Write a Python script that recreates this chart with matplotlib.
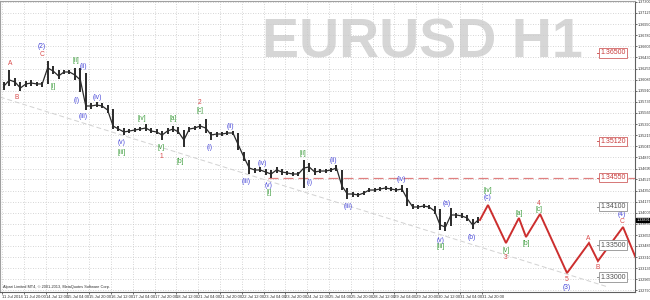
import matplotlib
matplotlib.use("Agg")
import matplotlib.pyplot as plt
import matplotlib.transforms as mtransforms

plt.rcParams['font.family'] = ['Liberation Sans', 'DejaVu Sans']

# ---------------- data ----------------
# H4-aggregated price (close / high / low), each group = 4 H1 bars
closes = [1.35984, 1.36078, 1.36047, 1.35953, 1.36016, 1.36031, 1.36016, 1.36016,
          1.36266, 1.36219, 1.36141, 1.36203, 1.36203, 1.36156, 1.36078, 1.35672,
          1.35672, 1.35687, 1.35672, 1.35609, 1.35359, 1.35312, 1.35266, 1.35281,
          1.35297, 1.35312, 1.35328, 1.35281, 1.35266, 1.35219, 1.35281, 1.35312,
          1.35266, 1.35141, 1.35312, 1.35328, 1.35359, 1.35328, 1.35219, 1.35234,
          1.35234, 1.35250, 1.35250, 1.35062, 1.34875, 1.34703, 1.34672, 1.34672,
          1.34641, 1.34609, 1.34672, 1.34641, 1.34625, 1.34609, 1.34609, 1.34703,
          1.34719, 1.34641, 1.34656, 1.34656, 1.34672, 1.34703, 1.34422, 1.34297,
          1.34297, 1.34281, 1.34312, 1.34359, 1.34359, 1.34375, 1.34391, 1.34375,
          1.34359, 1.34375, 1.34219, 1.34094, 1.34094, 1.34109, 1.34094, 1.34031,
          1.33812, 1.33781, 1.33969, 1.33969, 1.33953, 1.33922, 1.33812, 1.33891]
highs = [1.36047, 1.36234, 1.36109, 1.36047, 1.36062, 1.36078, 1.36047, 1.36047,
         1.36375, 1.36297, 1.36234, 1.36234, 1.36234, 1.36266, 1.36266, 1.36187,
         1.35719, 1.35734, 1.35719, 1.35687, 1.35625, 1.35359, 1.35328, 1.35312,
         1.35328, 1.35344, 1.35391, 1.35328, 1.35312, 1.35281, 1.35328, 1.35359,
         1.35344, 1.35297, 1.35344, 1.35359, 1.35391, 1.35469, 1.35266, 1.35266,
         1.35266, 1.35281, 1.35281, 1.35250, 1.34953, 1.34828, 1.34703, 1.34719,
         1.34687, 1.34672, 1.34719, 1.34687, 1.34656, 1.34641, 1.34641, 1.34828,
         1.34781, 1.34703, 1.34687, 1.34687, 1.34703, 1.34750, 1.34672, 1.34391,
         1.34328, 1.34312, 1.34344, 1.34391, 1.34391, 1.34406, 1.34422, 1.34406,
         1.34391, 1.34437, 1.34391, 1.34141, 1.34125, 1.34141, 1.34125, 1.34109,
         1.34062, 1.33859, 1.34078, 1.34000, 1.34000, 1.33969, 1.33906, 1.33937]
lows = [1.35922, 1.35984, 1.35984, 1.35906, 1.35969, 1.35984, 1.35984, 1.35969,
        1.36016, 1.36172, 1.36094, 1.36172, 1.36172, 1.36078, 1.35891, 1.35609,
        1.35625, 1.35656, 1.35641, 1.35562, 1.35312, 1.35281, 1.35219, 1.35250,
        1.35266, 1.35281, 1.35281, 1.35250, 1.35234, 1.35141, 1.35234, 1.35266,
        1.35234, 1.35031, 1.35266, 1.35297, 1.35312, 1.35250, 1.35141, 1.35187,
        1.35203, 1.35219, 1.35219, 1.34984, 1.34812, 1.34609, 1.34625, 1.34641,
        1.34594, 1.34547, 1.34625, 1.34594, 1.34594, 1.34578, 1.34578, 1.34391,
        1.34641, 1.34594, 1.34625, 1.34625, 1.34641, 1.34656, 1.34359, 1.34219,
        1.34250, 1.34250, 1.34281, 1.34328, 1.34328, 1.34344, 1.34359, 1.34344,
        1.34328, 1.34328, 1.34109, 1.34062, 1.34062, 1.34078, 1.34062, 1.33984,
        1.33734, 1.33719, 1.33797, 1.33922, 1.33922, 1.33875, 1.33750, 1.33844]
bars_per_group = 4

# projected wave path (bar index, price)
proj_bars = [350.8, 356.7, 369.9, 379.4, 384.6, 394.9, 414.7, 430.8, 437.4, 455.8, 470.0]
proj_prices = [1.33891, 1.34125, 1.33531, 1.33922, 1.33625, 1.33984, 1.33062,
               1.33531, 1.33250, 1.33781, 1.33050]

# dashed trend line
trend_bars = [-1.5, 444.8]
trend_prices = [1.35812, 1.32844]

# horizontal levels
level_prices = [1.36500, 1.35120, 1.34550, 1.34100, 1.33500, 1.33000]
level_kinds = ['red', 'red', 'red', 'gray', 'gray', 'gray']
dashed_level = 1.34550
dashed_level_start = 195.2
current_price = 1.33891

# wave labels: (text, bar, price, colour)
wave_labels = [
    ("A", 5.9, 1.36328, 'r'), ("B", 11.0, 1.35812, 'r'),
    ("(2)", 29.4, 1.36594, 'b'), ("C", 29.4, 1.36484, 'r'),
    ("[ii]", 54.3, 1.36375, 'g'), ("(ii)", 59.4, 1.36281, 'b'),
    ("[i]", 37.4, 1.35969, 'g'), ("(i)", 55.0, 1.35750, 'b'),
    ("(iii)", 59.4, 1.35500, 'b'), ("(iv)", 69.7, 1.35812, 'b'),
    ("(v)", 88.1, 1.35094, 'b'), ("[iii]", 88.1, 1.34953, 'g'),
    ("[iv]", 102.8, 1.35469, 'g'), ("[v]", 116.7, 1.35031, 'g'),
    ("1", 116.7, 1.34875, 'r'), ("[a]", 125.5, 1.35469, 'g'),
    ("[b]", 130.6, 1.34797, 'g'), ("2", 145.3, 1.35719, 'r'),
    ("[c]", 145.3, 1.35594, 'g'), ("(i)", 152.7, 1.35016, 'b'),
    ("(ii)", 167.3, 1.35359, 'b'), ("(iii)", 179.1, 1.34500, 'b'),
    ("(iv)", 190.8, 1.34781, 'b'), ("(v)", 196.0, 1.34422, 'b'),
    ("[i]", 196.0, 1.34328, 'g'), ("[ii]", 220.9, 1.34937, 'g'),
    ("(i)", 226.1, 1.34469, 'b'), ("(ii)", 242.9, 1.34828, 'b'),
    ("(iii)", 253.9, 1.34094, 'b'), ("(iv)", 292.8, 1.34531, 'b'),
    ("(v)", 322.2, 1.33578, 'b'), ("[iii]", 322.2, 1.33469, 'g'),
    ("(a)", 326.6, 1.34141, 'b'), ("(b)", 345.0, 1.33625, 'b'),
    ("[iv]", 356.7, 1.34344, 'g'), ("(c)", 356.7, 1.34250, 'b'),
    ("[v]", 369.9, 1.33422, 'g'), ("3", 369.9, 1.33312, 'r'),
    ("[a]", 379.4, 1.33999, 'g'), ("[b]", 384.6, 1.33516, 'g'),
    ("4", 394.1, 1.34156, 'r'), ("[c]", 394.1, 1.34062, 'g'),
    ("5", 414.7, 1.32969, 'r'), ("(3)", 414.7, 1.32844, 'b'),
    ("A", 430.1, 1.33609, 'r'), ("B", 437.4, 1.33156, 'r'),
    ("C", 455.0, 1.33875, 'r'), ("(4)", 455.0, 1.33984, 'b'),
]

# axis ticks
price_ticks = [1.37300, 1.37125, 1.36950, 1.36780, 1.36605, 1.36430, 1.36255,
               1.36085, 1.35910, 1.35735, 1.35565, 1.35390, 1.35215, 1.35045,
               1.34870, 1.34695, 1.34525, 1.34350, 1.34175, 1.34005, 1.33830,
               1.33655, 1.33485, 1.33310, 1.33135, 1.32965, 1.32790]
date_labels = ["11 Jul 2014", "11 Jul 20:00", "14 Jul 12:00", "15 Jul 04:00",
               "15 Jul 20:00", "16 Jul 12:00", "17 Jul 04:00", "17 Jul 20:00",
               "18 Jul 12:00", "21 Jul 04:00", "21 Jul 20:00", "22 Jul 12:00",
               "23 Jul 04:00", "23 Jul 20:00", "24 Jul 12:00", "25 Jul 04:00",
               "25 Jul 20:00", "28 Jul 12:00", "29 Jul 04:00", "29 Jul 20:00",
               "30 Jul 12:00", "31 Jul 04:00", "31 Jul 20:00"]
bars_per_label = 16

# ---------------- drawing ----------------
W, H = 650, 300
fig = plt.figure(figsize=(W / 100, H / 100), dpi=100)
fig.patch.set_facecolor('white')
ax = fig.add_axes([0, 8 / H, 635 / W, 291 / H])
ax.set_xlim(-1.47, 464.6)
ax.set_ylim(1.32766, 1.37312)

col = {'r': '#d94a4a', 'b': '#4848d8', 'g': '#3c9c3c'}

# grid and ticks
ax.set_yticks(price_ticks)
ax.set_yticklabels([f"{v:.5f}" for v in price_ticks])
xt = [i * bars_per_label for i in range(len(date_labels))]
ax.set_xticks(xt)
ax.set_xticklabels(date_labels)
ax.grid(True, color='#c8c8c8', linestyle=(0, (1, 2)), linewidth=0.6)
ax.set_axisbelow(True)
ax.yaxis.tick_right()
ax.tick_params(axis='y', labelsize=2.7, length=1.2, width=0.5, pad=0.6, colors='#303030')
ax.tick_params(axis='x', labelsize=3.0, length=1.2, width=0.5, pad=0.6, colors='#303030')
for lab in ax.get_xticklabels():
    lab.set_horizontalalignment('left')
for s in ['top', 'left']:
    ax.spines[s].set_color('#a0a0a0')
    ax.spines[s].set_linewidth(0.8)
for s in ['right', 'bottom']:
    ax.spines[s].set_color('#606060')
    ax.spines[s].set_linewidth(0.8)

# watermark
ax.text(0.665, 0.855, "EURUSD H1", transform=ax.transAxes, fontsize=40,
        fontweight='bold', color='#d6d6d6', ha='center', va='center', zorder=0.5)

# trend line
ax.plot(trend_bars, trend_prices, color='#d2d2d2', lw=0.7, ls=(0, (5, 3)), zorder=1)

# dashed level
ax.plot([dashed_level_start, 470], [dashed_level, dashed_level], color='#e08080',
        lw=0.9, ls=(0, (8, 4)), zorder=1)

# price bars
gx = [bars_per_group * i + 1.5 for i in range(len(closes))]
ax.vlines(gx, lows, highs, color='#2a2a2a', lw=1.4, zorder=3)
ax.plot(gx, closes, color='#2a2a2a', lw=0.9, zorder=3)

# projection
ax.plot(proj_bars, proj_prices, color='#cc2e2e', lw=1.4, zorder=4, solid_joinstyle='miter')

# wave labels
for txt, b, p, c in wave_labels:
    ax.text(b, p, txt, color=col[c], fontsize=4.8, ha='center', va='center', zorder=5)

# right-hand price boxes
trans = mtransforms.blended_transform_factory(ax.transAxes, ax.transData)
for p, k in zip(level_prices, level_kinds):
    ec = '#d06060' if k == 'red' else '#909090'
    tc = '#c83a3a' if k == 'red' else '#505050'
    ax.plot([0.940, 0.949], [p, p], transform=trans, color=ec, lw=0.7, zorder=6,
            clip_on=False)
    ax.text(0.9655, p, f"{p:.5f}", transform=trans, fontsize=5.0, color=tc,
            ha='center', va='center', zorder=7,
            bbox=dict(boxstyle='square,pad=0.15', fc='white', ec=ec, lw=0.6))

# current price box on axis
ax.text(1.002, current_price, f"{current_price:.5f}",
        transform=trans, fontsize=2.7, color='white', ha='left', va='center',
        bbox=dict(boxstyle='square,pad=0.1', fc='black', ec='black'), zorder=8,
        clip_on=False)

# copyright
ax.text(0.004, 0.012, "Alpari Limited MT4, \u00a9 2001-2013, MetaQuotes Software Corp.",
        transform=ax.transAxes, fontsize=2.8, color='#303030', ha='left', va='bottom')

fig.savefig("out.png", dpi=100)
